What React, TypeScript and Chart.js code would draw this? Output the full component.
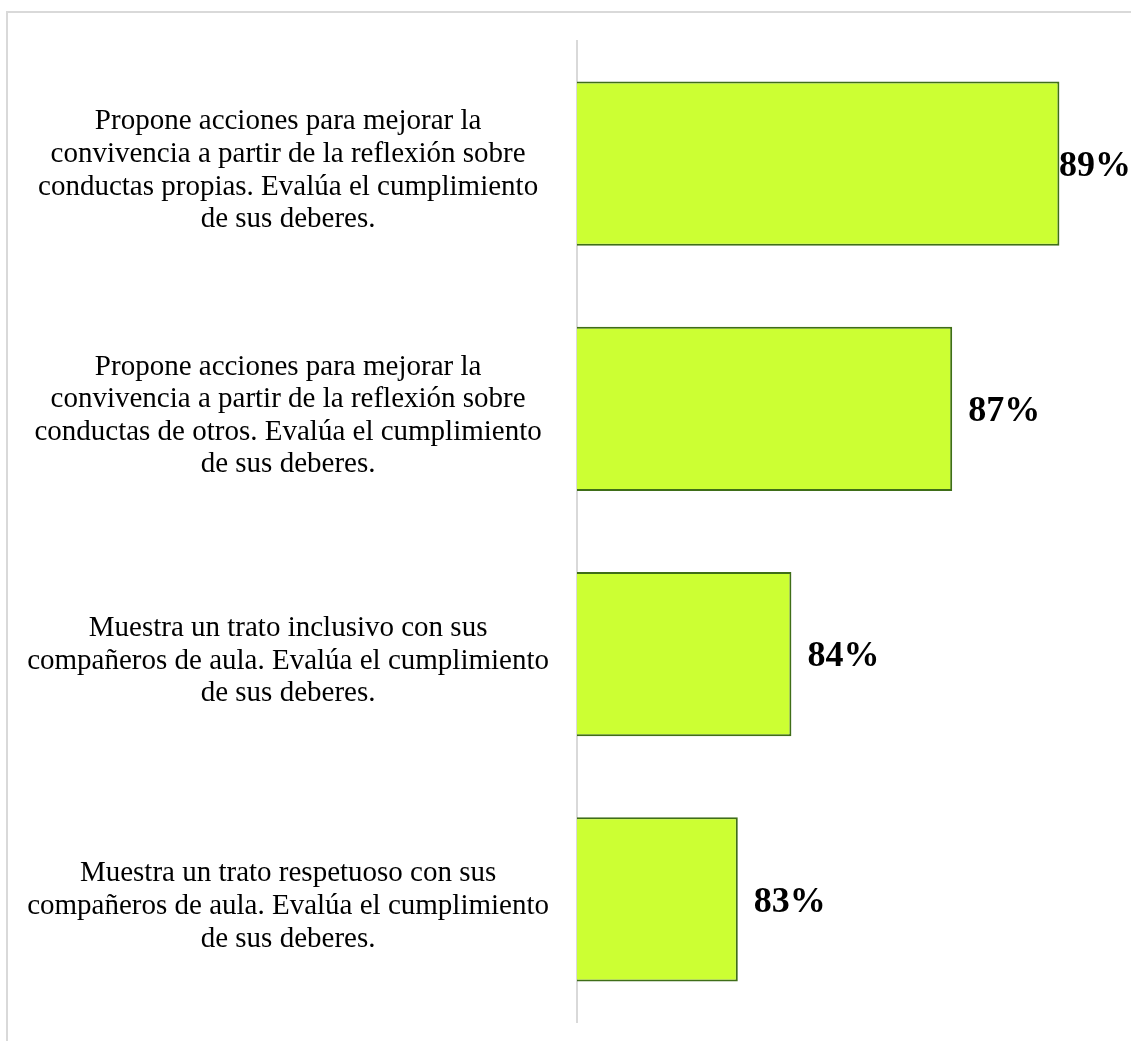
import React, { useEffect, useRef } from "react";
import { Chart, registerables } from "chart.js";

Chart.register(...registerables);

const categories: string[][] = [
  [
    "Propone acciones para mejorar la",
    "convivencia a partir de la reflexión sobre",
    "conductas propias. Evalúa el cumplimiento",
    "de sus deberes.",
  ],
  [
    "Propone acciones para mejorar la",
    "convivencia a partir de la reflexión sobre",
    "conductas de otros. Evalúa el cumplimiento",
    "de sus deberes.",
  ],
  [
    "Muestra un trato inclusivo con sus",
    "compañeros de aula. Evalúa el cumplimiento",
    "de sus deberes.",
  ],
  [
    "Muestra un trato respetuoso con sus",
    "compañeros de aula. Evalúa el cumplimiento",
    "de sus deberes.",
  ],
];

const values: number[] = [89, 87, 84, 83];
const axisMin = 80;
const axisMax = 90;

const W = 1131;
const H = 1041;
const SERIF = '"Liberation Serif", "Times New Roman", serif';

const valueLabels = {
  id: "valueLabels",
  afterDatasetsDraw(chart: any) {
    const ctx = chart.ctx;
    const meta = chart.getDatasetMeta(0);
    ctx.save();
    ctx.font = `bold 36px ${SERIF}`;
    ctx.fillStyle = "#000000";
    ctx.textAlign = "left";
    ctx.textBaseline = "middle";
    meta.data.forEach((bar: any, i: number) => {
      const text = `${values[i]}%`;
      const w = ctx.measureText(text).width;
      const x = Math.min(bar.x + 16, chart.width - w);
      ctx.fillText(text, x, bar.y + 3);
    });
    ctx.restore();
  },
};

export default function App() {
  const ref = useRef<HTMLCanvasElement | null>(null);

  useEffect(() => {
    if (!ref.current) return;
    const chart = new Chart(ref.current, {
      type: "bar",
      data: {
        labels: categories as any,
        datasets: [
          {
            data: values,
            backgroundColor: "#CCFF33",
            borderColor: "#3F6E18",
            borderWidth: 2,
            borderSkipped: false,
            categoryPercentage: 1,
            barPercentage: 0.669,
          },
        ],
      },
      options: {
        indexAxis: "y",
        animation: false,
        responsive: false,
        devicePixelRatio: 1,
        layout: { padding: { left: 0, right: 18, top: 41, bottom: 19 } },
        plugins: {
          legend: { display: false },
          tooltip: { enabled: false },
          title: { display: false },
        },
        scales: {
          x: {
            display: false,
            min: axisMin,
            max: axisMax,
          },
          y: {
            afterFit: (scale: any) => {
              scale.width = 577;
              scale.paddingTop = 0;
              scale.paddingBottom = 0;
            },
            grid: { display: false },
            border: { display: true, color: "#D9D9D9", width: 2 },
            ticks: {
              autoSkip: false,
              crossAlign: "center",
              padding: 20,
              labelOffset: 7,
              color: "#000000",
              font: { family: SERIF, size: 29, lineHeight: 1.125 },
            },
          },
        },
      },
      plugins: [valueLabels],
    });
    return () => chart.destroy();
  }, []);

  return (
    <div
      style={{
        position: "absolute",
        left: 0,
        top: 0,
        width: W,
        height: H,
        overflow: "hidden",
        background: "#ffffff",
      }}
    >
      <div
        style={{
          position: "absolute",
          left: 6,
          top: 11,
          width: 1200,
          height: 1100,
          border: "2px solid #D9D9D9",
        }}
      />
      <canvas
        ref={ref}
        width={W}
        height={H}
        style={{ position: "absolute", left: 0, top: 0, width: W, height: H }}
      />
    </div>
  );
}
